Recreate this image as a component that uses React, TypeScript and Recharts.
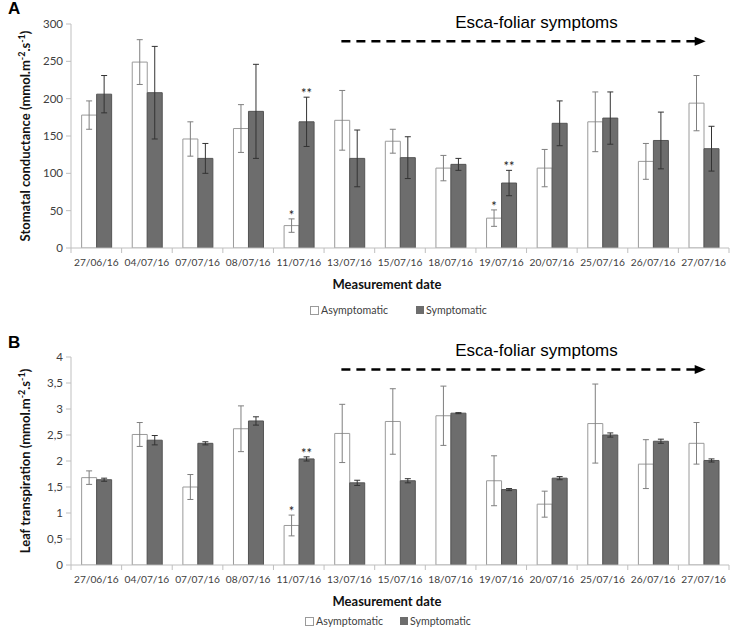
import React from 'react';
import { BarChart, Bar, XAxis, YAxis, ErrorBar, LabelList, ReferenceLine } from 'recharts';

const dates = ['27/06/16', '04/07/16', '07/07/16', '08/07/16', '11/07/16', '13/07/16', '15/07/16', '18/07/16', '19/07/16', '20/07/16', '25/07/16', '26/07/16', '27/07/16'];

// Panel A: stomatal conductance
const condAsym = [178, 249, 146, 160, 30, 171, 143, 107, 40, 107, 169, 116, 194];
const condAsymErr = [19, 30, 23, 32, 9, 40, 16, 17, 11, 25, 40, 24, 37];
const condSym = [206, 208, 120, 183, 169, 120, 121, 112, 87, 167, 174, 144, 133];
const condSymErr = [25, 62, 20, 63, 33, 38, 28, 8, 17, 30, 35, 38, 30];
const condAsymSig = ['', '', '', '', '*', '', '', '', '*', '', '', '', ''];
const condSymSig = ['', '', '', '', '**', '', '', '', '**', '', '', '', ''];
const condTicks = [0, 50, 100, 150, 200, 250, 300];

// Panel B: leaf transpiration
const transAsym = [1.68, 2.51, 1.5, 2.62, 0.76, 2.53, 2.76, 2.87, 1.62, 1.17, 2.72, 1.94, 2.34];
const transAsymErr = [0.13, 0.23, 0.24, 0.44, 0.2, 0.56, 0.63, 0.57, 0.48, 0.25, 0.76, 0.47, 0.4];
const transSym = [1.64, 2.4, 2.34, 2.77, 2.04, 1.58, 1.62, 2.92, 1.45, 1.67, 2.5, 2.38, 2.01];
const transSymErr = [0.03, 0.09, 0.03, 0.08, 0.04, 0.05, 0.04, 0.01, 0.02, 0.03, 0.04, 0.04, 0.03];
const transAsymSig = ['', '', '', '', '*', '', '', '', '', '', '', '', ''];
const transSymSig = ['', '', '', '', '**', '', '', '', '', '', '', '', ''];
const transTicks = [0, 0.5, 1, 1.5, 2, 2.5, 3, 3.5, 4];

const seriesNames = ['Asymptomatic', 'Symptomatic'];
const escaText = 'Esca-foliar symptoms';
const escaStart = '13/07/16';
const escaEnd = '27/07/16';
const escaLevelA = 277;
const escaLevelB = 3.76;

const dataA = dates.map((d, i) => ({
  date: d,
  asym: condAsym[i], asymErr: condAsymErr[i],
  sym: condSym[i], symErr: condSymErr[i],
}));
const dataB = dates.map((d, i) => ({
  date: d,
  asym: transAsym[i], asymErr: transAsymErr[i],
  sym: transSym[i], symErr: transSymErr[i],
}));

const W = 750;
const Y_AXIS_W = 71;
const RIGHT = 21;
const BAND = (W - Y_AXIS_W - RIGHT) / dates.length;
const CAL = 'Lato, "Open Sans", sans-serif';
const AXIS_COLOR = '#bfbfbf';
const WHITE_STROKE = '#9a9a9a';
const DARK_FILL = '#6d6d6d';
const DARK_STROKE = '#555555';

const XTick = (props: any) => {
  const { x, y, payload, index } = props;
  const left = x - BAND / 2;
  const right = x + BAND / 2;
  return (
    <g>
      <line x1={left} x2={left} y1={y - 5} y2={y} stroke={AXIS_COLOR} />
      {index === dates.length - 1 && <line x1={right} x2={right} y1={y - 5} y2={y} stroke={AXIS_COLOR} />}
      <text x={x} y={y + 13} textAnchor="middle" fontFamily={CAL} fontSize={10.2} fill="#404040">{payload.value}</text>
    </g>
  );
};

const makeSigLabel = (sig: string[], errs: number[], values: number[]) => (props: any) => {
  const { x, y, width, height, index } = props;
  const s = sig[index];
  if (!s) return null;
  const pxPerUnit = height / values[index];
  const top = y - errs[index] * pxPerUnit;
  return (
    <text x={x + width / 2} y={top + 1} textAnchor="middle" fontFamily={CAL} fontSize={13} fill="#222">{s}</text>
  );
};

const YLabel = (label: string) => (props: any) => {
  const vb = props.viewBox || {};
  const cx = (vb.x || 0) + 25;
  const cy = vb.y + vb.height / 2;
  return (
    <text transform={`rotate(-90, ${cx}, ${cy})`} x={cx} y={cy + 5} textAnchor="middle" fontFamily={CAL} fontWeight={700} fontSize={13} fill="#111">
      {label} (mmol.m<tspan dy={-5} fontSize={9}>-2</tspan><tspan dy={5}>.s</tspan><tspan dy={-5} fontSize={9}>-1</tspan><tspan dy={5}>)</tspan>
    </text>
  );
};

const XLabel = (props: any) => {
  const vb = props.viewBox || {};
  return (
    <text x={387} y={vb.y + 41} textAnchor="middle" fontFamily={CAL} fontWeight={700} fontSize={13} fill="#111">Measurement date</text>
  );
};

const EscaArrow = (props: any) => {
  const { x1, y1, x2 } = props;
  const start = x1 - 8;
  const tip = x2 + 2;
  return (
    <g>
      <line x1={start} y1={y1} x2={tip - 9} y2={y1} stroke="#000" strokeWidth={2.5} strokeDasharray="9 6" />
      <polygon points={`${tip},${y1} ${tip - 11},${y1 - 4.5} ${tip - 11},${y1 + 4.5}`} fill="#000" />
      <text x={(start + tip) / 2 + 13} y={y1 - 13} textAnchor="middle" fontFamily="'Liberation Sans', Arial, sans-serif" fontSize={17} fill="#000">{escaText}</text>
    </g>
  );
};

const Legend = ({ left, top, gap }: { left: number; top: number; gap: number }) => (
  <div style={{ position: 'absolute', left, top, display: 'flex', alignItems: 'center', fontFamily: CAL, fontSize: 10.6, color: '#404040', whiteSpace: 'nowrap' }}>
    <span style={{ display: 'inline-block', width: 7, height: 7, border: `1px solid ${WHITE_STROKE}`, background: '#fff', marginRight: 2 }} />
    <span>{seriesNames[0]}</span>
    <span style={{ display: 'inline-block', width: 8, height: 8, background: DARK_FILL, marginLeft: gap, marginRight: 2 }} />
    <span>{seriesNames[1]}</span>
  </div>
);

const Panel = ({ data, ticks, domain, yLabel, asymSig, symSig, asymErr, symErr, asymVals, symVals, escaLevel, top, height, marginTop, fmt }: any) => (
  <div style={{ position: 'absolute', left: 0, top, width: W, height }}>
    <BarChart width={W} height={height} data={data} margin={{ top: marginTop, right: RIGHT, bottom: 40, left: 0 }} barCategoryGap="21%" barGap={0}>
      <XAxis dataKey="date" height={30} stroke={AXIS_COLOR} tickLine={false} tickSize={5} tickMargin={0} tick={<XTick />} interval={0} label={<XLabel />} />
      <YAxis width={Y_AXIS_W} domain={domain} ticks={ticks} stroke={AXIS_COLOR} tickSize={5} tickMargin={3} tickFormatter={fmt}
        tick={{ fontFamily: CAL, fontSize: 11.5, fill: '#404040' }} label={YLabel(yLabel)} allowDataOverflow />
      <Bar dataKey="asym" fill="#ffffff" stroke={WHITE_STROKE} strokeWidth={1} isAnimationActive={false}>
        <ErrorBar dataKey="asymErr" width={3} stroke="#7f7f7f" strokeWidth={1} />
        <LabelList dataKey="asym" content={makeSigLabel(asymSig, asymErr, asymVals)} />
      </Bar>
      <Bar dataKey="sym" fill={DARK_FILL} stroke={DARK_STROKE} strokeWidth={1} isAnimationActive={false}>
        <ErrorBar dataKey="symErr" width={3} stroke="#333333" strokeWidth={1} />
        <LabelList dataKey="sym" content={makeSigLabel(symSig, symErr, symVals)} />
      </Bar>
      <ReferenceLine segment={[{ x: escaStart, y: escaLevel }, { x: escaEnd, y: escaLevel }]} shape={EscaArrow} ifOverflow="visible" />
    </BarChart>
  </div>
);

export default function App() {
  return (
    <div style={{ position: 'absolute', left: 0, top: 0, width: W, height: 635, background: '#fff', overflow: 'hidden' }}>
      <div style={{ position: 'absolute', left: 8, top: 0, lineHeight: '18px', fontFamily: "'Liberation Sans', Arial, sans-serif", fontWeight: 700, fontSize: 17 }}>A</div>
      <div style={{ position: 'absolute', left: 8, top: 334, lineHeight: '18px', fontFamily: "'Liberation Sans', Arial, sans-serif", fontWeight: 700, fontSize: 17 }}>B</div>
      <Panel data={dataA} ticks={condTicks} domain={[0, 300]} yLabel="Stomatal conductance"
        asymSig={condAsymSig} symSig={condSymSig} asymErr={condAsymErr} symErr={condSymErr} asymVals={condAsym} symVals={condSym}
        escaLevel={escaLevelA} top={0} height={318} marginTop={24} fmt={(v: number) => String(v)} />
      <Legend left={310} top={304} gap={28} />
      <Panel data={dataB} ticks={transTicks} domain={[0, 4]} yLabel="Leaf transpiration"
        asymSig={transAsymSig} symSig={transSymSig} asymErr={transAsymErr} symErr={transSymErr} asymVals={transAsym} symVals={transSym}
        escaLevel={escaLevelB} top={318} height={317} marginTop={39} fmt={(v: number) => String(v).replace('.', ',')} />
      <Legend left={305} top={615} gap={17} />
    </div>
  );
}
